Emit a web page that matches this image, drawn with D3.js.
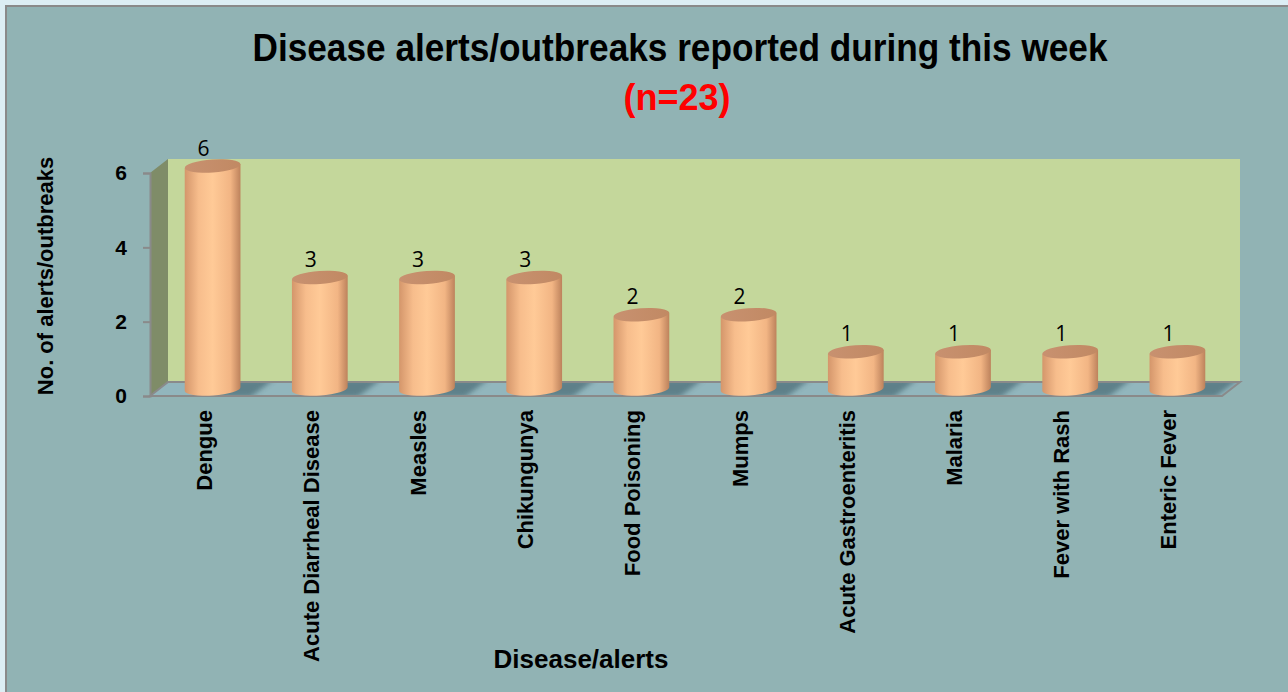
<!DOCTYPE html>
<html>
<head>
<meta charset="utf-8">
<script src="https://cdn.jsdelivr.net/npm/d3@7"></script>
<style>
  html, body { margin: 0; padding: 0; background: #dceef4; }
  svg { display: block; }
  .bold { font-family: "Liberation Sans", Arial, sans-serif; font-weight: bold; }
</style>
</head>
<body>
<svg id="chart"></svg>
<script>
// chart data
const diseases = ['Dengue', 'Acute Diarrheal Disease', 'Measles', 'Chikungunya', 'Food Poisoning',
    'Mumps', 'Acute Gastroenteritis', 'Malaria', 'Fever with Rash', 'Enteric Fever'];
const alerts = [6, 3, 3, 3, 2, 2, 1, 1, 1, 1];
const yTicks = [0, 2, 4, 6];

const W = 1288, H = 692;
const svg = d3.select('#chart').attr('width', W).attr('height', H);

// 3d depth offset of the plot box
const depth = {dx: 18, dy: -14};

const x = d3.scaleBand().domain(diseases).range([150, 1222]).padding(0);
const y = d3.scaleLinear().domain([0, 6]).range([396, 173]);

const defs = svg.append('defs');

// cylinder side gradient
const grad = defs.append('linearGradient').attr('id', 'cyl').attr('x1', 0).attr('x2', 1).attr('y1', 0).attr('y2', 0);
grad.append('stop').attr('offset', '0%').attr('stop-color', '#d4966b');
grad.append('stop').attr('offset', '25%').attr('stop-color', '#f7bd8c');
grad.append('stop').attr('offset', '50%').attr('stop-color', '#ffca97');
grad.append('stop').attr('offset', '82%').attr('stop-color', '#f2b584');
grad.append('stop').attr('offset', '100%').attr('stop-color', '#bd825c');

const topGrad = defs.append('linearGradient').attr('id', 'cyltop').attr('x1', 0).attr('x2', 1).attr('y1', 0).attr('y2', 0);
topGrad.append('stop').attr('offset', '0%').attr('stop-color', '#c89170');
topGrad.append('stop').attr('offset', '100%').attr('stop-color', '#c18963');

defs.append('filter').attr('id', 'blur').attr('x', '-50%').attr('y', '-50%').attr('width', '200%').attr('height', '200%')
    .append('feGaussianBlur').attr('stdDeviation', 2.5);

// outer panel
svg.append('rect').attr('x', 6).attr('y', 6).attr('width', W).attr('height', H)
    .attr('fill', '#91b3b4').attr('stroke', '#8a8a8a').attr('stroke-width', 2);

// walls and floor
const x0 = x.range()[0], x1 = x.range()[1];
const yb = y(0), yt = y(6);

svg.append('polygon')
    .attr('points', [[x0 + depth.dx, yt + depth.dy], [x1 + depth.dx, yt + depth.dy],
        [x1 + depth.dx, yb + depth.dy], [x0 + depth.dx, yb + depth.dy]].join(' '))
    .attr('fill', '#c4d79b');

svg.append('polygon')
    .attr('points', [[x0, yt], [x0 + depth.dx, yt + depth.dy], [x0 + depth.dx, yb + depth.dy], [x0, yb]].join(' '))
    .attr('fill', '#7f8c68');

const floorPts = [[x0, yb], [x0 + depth.dx, yb + depth.dy], [x1 + depth.dx, yb + depth.dy], [x1, yb]];
defs.append('clipPath').attr('id', 'floorClip')
    .append('polygon').attr('points', floorPts.join(' '));

svg.append('polygon')
    .attr('points', floorPts.join(' '))
    .attr('fill', '#92b6bd');

// y axis
const yAxis = d3.axisLeft(y).tickValues(yTicks).tickFormat(d3.format('d')).tickSize(7).tickPadding(16);
const gy = svg.append('g').attr('transform', `translate(${x0},0)`).call(yAxis);
gy.select('.domain').attr('stroke', '#8a8a8a').attr('stroke-width', 2);
gy.selectAll('.tick line').attr('stroke', '#8a8a8a').attr('stroke-width', 2);
gy.selectAll('.tick text').attr('class', 'bold').attr('font-size', 21).attr('fill', '#000');

// cylinders
const bw = x.bandwidth();
const rx = bw * 0.26, ry = 6.5, tilt = 2;
const data = diseases.map((d, i) => ({name: d, value: alerts[i]}));

const cx = d => x(d.name) + bw / 2 + depth.dx / 2;
const baseY = () => y(0) + depth.dy / 2;
const topY = d => y(d.value) + depth.dy / 2;

// floor shadows behind the cylinders
svg.append('g').attr('clip-path', 'url(#floorClip)')
    .selectAll('polygon').data(data).join('polygon')
    .attr('points', d => {
        const c = cx(d), b = baseY();
        return [[c, b + 8], [c + rx + 10, b + 8], [c + rx + 34, b - 10], [c + 14, b - 10]].join(' ');
    })
    .attr('fill', '#4d6e78').attr('opacity', 0.75)
    .attr('filter', 'url(#blur)');

svg.append('polygon')
    .attr('points', floorPts.join(' '))
    .attr('fill', 'none').attr('stroke', '#8a8a8a').attr('stroke-width', 2);

const bars = svg.append('g').selectAll('g.bar')
    .data(data)
    .join('g').attr('class', 'bar');

bars.append('path')
    .attr('d', d => {
        const l = cx(d) - rx, r = cx(d) + rx, t = topY(d), b = baseY();
        return `M${l},${t + tilt} L${l},${b + tilt} A${rx},${ry} -4 0 0 ${r},${b - tilt} L${r},${t - tilt} Z`;
    })
    .attr('fill', 'url(#cyl)');

bars.append('ellipse')
    .attr('cx', cx).attr('cy', topY)
    .attr('rx', rx).attr('ry', ry)
    .attr('transform', d => `rotate(-4,${cx(d)},${topY(d)})`)
    .attr('fill', 'url(#cyltop)');

// value labels
bars.append('text')
    .attr('x', d => x(d.name) + bw / 2)
    .attr('y', d => topY(d) - ry - 4)
    .attr('text-anchor', 'middle')
    .attr('font-family', '"Open Sans", "Noto Sans", sans-serif')
    .attr('font-size', 21)
    .attr('fill', '#000')
    .text(d => d.value);

// category labels
const xAxis = d3.axisBottom(x).tickSize(0).tickPadding(0);
const gx = svg.append('g').attr('transform', `translate(0,${yb + 14})`).call(xAxis);
gx.select('.domain').remove();
gx.selectAll('.tick text')
    .attr('class', 'bold')
    .attr('font-size', 22)
    .attr('fill', '#000')
    .attr('text-anchor', 'end')
    .attr('transform', 'rotate(-90)')
    .attr('x', 0).attr('y', 0).attr('dy', '0.36em');

// titles
svg.append('text').attr('class', 'bold')
    .attr('x', 680).attr('y', 61)
    .attr('text-anchor', 'middle').attr('font-size', 38)
    .attr('textLength', 855).attr('lengthAdjust', 'spacingAndGlyphs')
    .text('Disease alerts/outbreaks reported during this week');

svg.append('text').attr('class', 'bold')
    .attr('x', 677).attr('y', 110)
    .attr('text-anchor', 'middle').attr('font-size', 36).attr('fill', '#ff0000')
    .text('(n=23)');

svg.append('text').attr('class', 'bold')
    .attr('transform', 'translate(53,276) rotate(-90)')
    .attr('text-anchor', 'middle').attr('font-size', 22)
    .text('No. of alerts/outbreaks');

svg.append('text').attr('class', 'bold')
    .attr('x', 581).attr('y', 668)
    .attr('text-anchor', 'middle').attr('font-size', 26)
    .text('Disease/alerts');
</script>
</body>
</html>
